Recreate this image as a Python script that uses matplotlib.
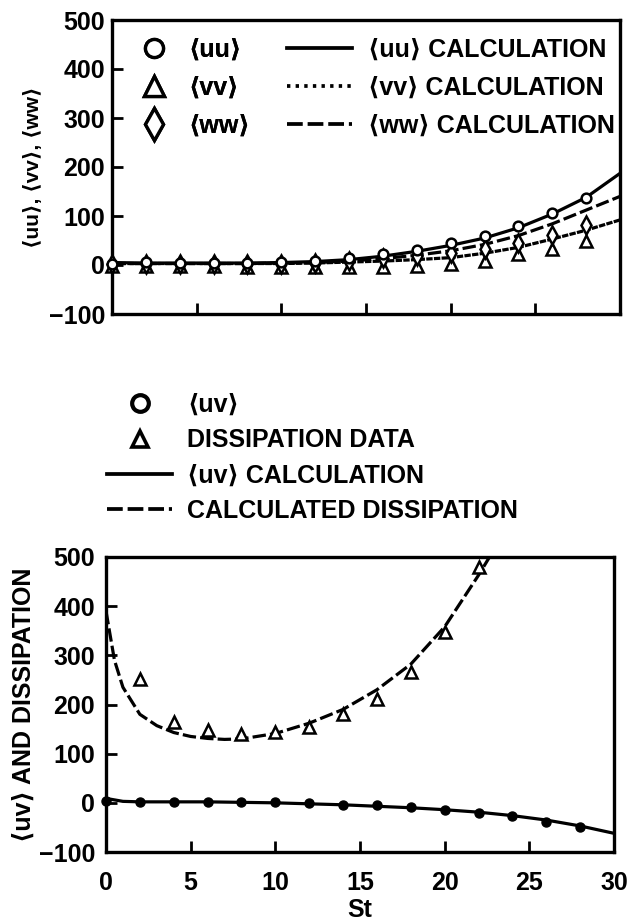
import matplotlib
matplotlib.use("Agg")
import matplotlib.pyplot as plt
from matplotlib.lines import Line2D

plt.rcParams['font.family'] = ['Liberation Sans', 'DejaVu Sans']
plt.rcParams['font.weight'] = 'bold'
plt.rcParams['axes.labelweight'] = 'bold'

# ---- upper panel: normal stresses ----
st_data = [0, 2, 4, 6, 8, 10, 12, 14, 16, 18, 20, 22, 24, 26, 28]
uu_data = [3, 6, 5, 5, 5, 6, 9, 14, 22, 30, 45, 59, 80, 106, 136]
vv_data = [-2, -2, -3, -3, -4, -4, -5, -4, -4, -2, 3, 9, 23, 33, 50]
ww_data = [2, 3, 2, 2, 2, 2, 4, 8, 14, 18, 25, 32, 44, 61, 82]

st_calc = [0, 2, 4, 6, 8, 10, 12, 14, 16, 18, 20, 22, 24, 26, 28, 30]
uu_calc = [5, 4, 4, 4, 4, 5, 7, 11, 18, 28, 40, 55, 76, 104, 138, 187]
vv_calc = [3, 3, 3, 3, 3, 3, 4, 6, 8, 11, 15, 24, 36, 53, 71, 92]
ww_calc = [3, 3, 3, 3, 3, 4, 5, 8, 13, 20, 29, 42, 60, 84, 112, 140]

# ---- lower panel: shear stress and dissipation ----
uv_data = [4, 2, 2, 2, 2, 2, -1, -5, -5, -9, -15, -20, -27, -38, -50]

st_uv_calc = [0, 1, 2, 4, 6, 8, 10, 12, 14, 16, 18, 20, 22, 24, 26, 28, 30]
uv_calc = [9, 3, 2, 2, 2, 1, 0, -2, -4, -7, -10, -14, -19, -26, -35, -47, -62]

st_diss = [2, 4, 6, 8, 10, 12, 14, 16, 18, 20, 22]
diss_data = [252, 165, 148, 141, 145, 155, 181, 212, 266, 347, 480]

st_diss_calc = [0, 0.5, 1, 2, 3, 4, 5, 6, 7, 8, 10, 12, 14, 16, 18, 20, 22, 23]
diss_calc = [390, 290, 235, 180, 157, 143, 135, 131, 129, 130, 141, 162, 190,
             230, 282, 358, 463, 520]

y_ticks = [-100, 0, 100, 200, 300, 400, 500]
x_ticks = [0, 5, 10, 15, 20, 25, 30]

W, H = 631, 923
FS = 18
LW = 2.3
DASH = (0, (4.2, 1.3))
DOT_DENSE = (0, (2.0, 0.4))
DOT = (0, (0.9, 1.4))


def fx(x):
    return x / W


def fy(y):
    return 1 - y / H


fig = plt.figure(figsize=(W / 100, H / 100), dpi=100)
ax1 = fig.add_axes([fx(112), fy(314), 508 / W, 294 / H])
ax2 = fig.add_axes([fx(106), fy(852), 508 / W, 295 / H])

for ax in (ax1, ax2):
    ax.set_xlim(0, 30)
    ax.set_ylim(-100, 500)
    ax.set_xticks(x_ticks)
    ax.set_yticks(y_ticks)
    ax.tick_params(direction='in', length=8, width=2, labelsize=FS,
                   top=False, right=False)
    for s in ax.spines.values():
        s.set_linewidth(2.4)
ax1.tick_params(axis='x', labelbottom=False)
ax1.tick_params(axis='y', pad=5)
ax2.tick_params(axis='y', pad=8)
ax2.tick_params(axis='x', pad=14)

mk = dict(linestyle='none', markerfacecolor='white', markeredgecolor='black',
          markeredgewidth=1.8, clip_on=False, zorder=3)

ax1.plot(st_calc, uu_calc, color='black', lw=LW, zorder=2)
ax1.plot(st_calc, vv_calc, color='black', lw=LW, linestyle=DOT_DENSE, zorder=2)
ax1.plot(st_calc, ww_calc, color='black', lw=LW, linestyle=DASH, zorder=2)
ax1.plot(st_data, vv_data, marker='^', markersize=9, **mk)
ax1.plot(st_data, ww_data, marker='d', markersize=9, **mk)
ax1.plot(st_data, uu_data, marker='o', markersize=7, **mk)

ax1.set_ylabel('⟨uu⟩, ⟨vv⟩, ⟨ww⟩', fontsize=15, labelpad=4)

h_marks = [Line2D([], [], marker='o', markersize=13, markerfacecolor='white',
                  markeredgecolor='black', markeredgewidth=2.4, linestyle='none'),
           Line2D([], [], marker='^', markersize=14, markerfacecolor='white',
                  markeredgecolor='black', markeredgewidth=2.4, linestyle='none'),
           Line2D([], [], marker='d', markersize=16, markerfacecolor='white',
                  markeredgecolor='black', markeredgewidth=2.4, linestyle='none')]
leg1 = fig.legend(h_marks, ['⟨uu⟩', '⟨vv⟩', '⟨ww⟩'], loc='upper left',
                  bbox_to_anchor=(fx(139), fy(38)), frameon=False, fontsize=FS,
                  handlelength=1.2, handletextpad=0.76, labelspacing=0.56,
                  borderpad=0, borderaxespad=0)

h_lines = [Line2D([], [], color='black', lw=LW + 0.4),
           Line2D([], [], color='black', lw=LW + 0.4, linestyle=DOT),
           Line2D([], [], color='black', lw=LW + 0.4, linestyle=DASH)]
leg2 = fig.legend(h_lines, ['⟨uu⟩ CALCULATION', '⟨vv⟩ CALCULATION',
                            '⟨ww⟩ CALCULATION'], loc='upper left',
                  bbox_to_anchor=(fx(287), fy(38)), frameon=False, fontsize=FS,
                  handlelength=2.6, handletextpad=0.64, labelspacing=0.56,
                  borderpad=0, borderaxespad=0)
fig.add_artist(leg1)

# lower panel
ax2.plot(st_uv_calc, uv_calc, color='black', lw=LW, zorder=2)
ax2.plot(st_diss_calc, diss_calc, color='black', lw=LW, linestyle=DASH, zorder=2)
ax2.plot(st_data, uv_data, marker='o', markersize=6.5, markerfacecolor='black',
         markeredgecolor='black', linestyle='none', clip_on=False, zorder=3)
ax2.plot(st_diss, diss_data, marker='^', markersize=9, **mk)

ax2.set_xlabel('St', fontsize=FS, labelpad=2)
ax2.set_ylabel('⟨uv⟩ AND DISSIPATION', fontsize=FS, labelpad=2)

h_bottom = [Line2D([], [], marker='o', markersize=12, markerfacecolor='white',
                   markeredgecolor='black', markeredgewidth=3, linestyle='none'),
            Line2D([], [], marker='^', markersize=12, markerfacecolor='white',
                   markeredgecolor='black', markeredgewidth=2.6, linestyle='none'),
            Line2D([], [], color='black', lw=LW + 0.4),
            Line2D([], [], color='black', lw=LW + 0.4, linestyle=DASH)]
fig.legend(h_bottom, ['⟨uv⟩', 'DISSIPATION DATA', '⟨uv⟩ CALCULATION',
                      'CALCULATED DISSIPATION'], loc='upper left',
           bbox_to_anchor=(fx(107), fy(393)), frameon=False, fontsize=FS,
           handlelength=2.6, handletextpad=0.6, labelspacing=0.45,
           borderpad=0, borderaxespad=0)

fig.savefig('out.png', dpi=100)
